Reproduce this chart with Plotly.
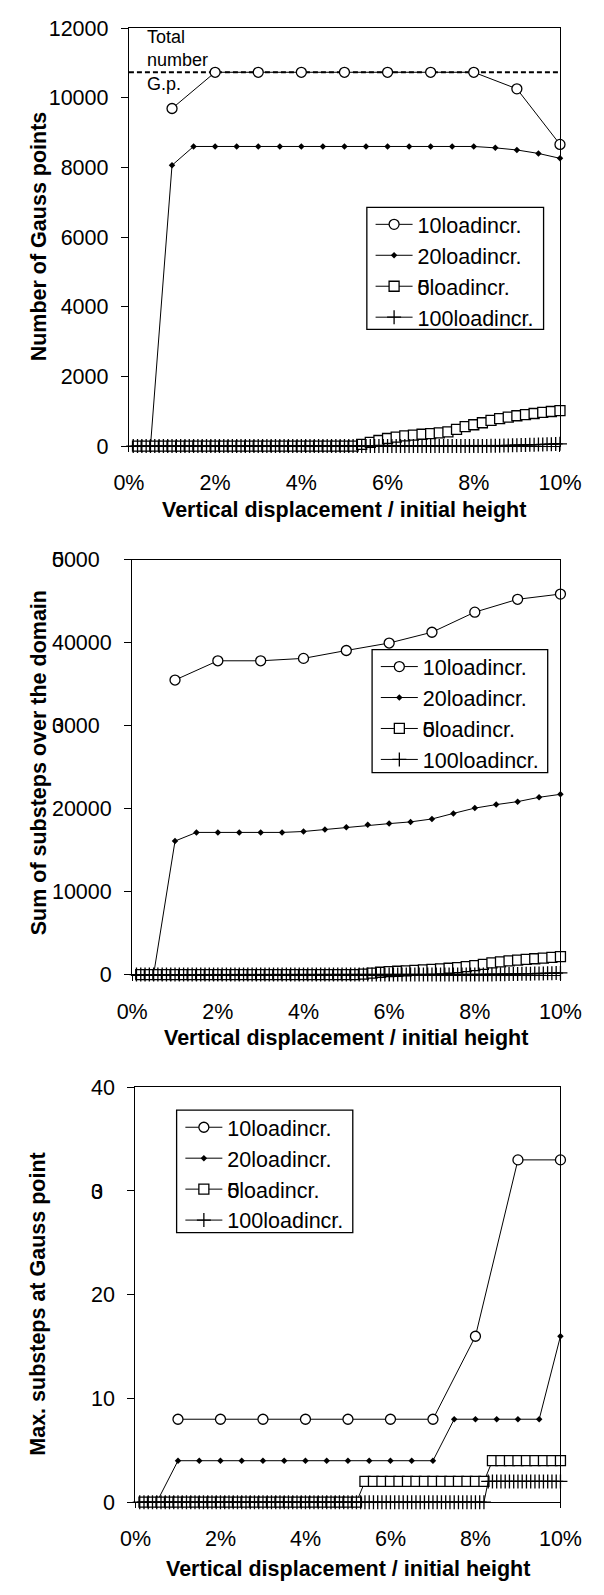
import plotly.graph_objects as go

# ---------------------------------------------------------------
# Data: load-step positions (vertical displacement / initial height, %)
# ---------------------------------------------------------------
x_10 = [round(10 * k / 10, 2) for k in range(1, 11)]      # 10 load increments
x_20 = [round(10 * k / 20, 2) for k in range(1, 21)]      # 20 load increments
x_50 = [round(10 * k / 50, 2) for k in range(1, 51)]      # 50 load increments
x_100 = [round(10 * k / 100, 2) for k in range(1, 101)]   # 100 load increments

# Number of Gauss points
gp_10 = [9690, 10730, 10730, 10730, 10730, 10730, 10730, 10730, 10255, 8660]
gp_20 = [0, 8060, 8600, 8600, 8600, 8600, 8600, 8600, 8600, 8600,
         8600, 8600, 8600, 8600, 8600, 8600, 8560, 8500, 8400, 8260]
gp_50 = [0] * 26 + [47, 104, 160, 217, 254, 292, 311, 339, 358, 377, 405, 481,
                    556, 612, 669, 735, 785, 830, 870, 905, 935, 965, 992, 1018]
gp_100 = [0] * 82 + [4, 7, 10, 12, 15, 19, 22, 25, 29, 32, 36, 40, 43, 47,
                     51, 55, 60, 64]
total_gp = 10730

# Sum of substeps over the domain
ss_10 = [35490, 37810, 37810, 38100, 39050, 39950, 41250, 43670, 45220, 45850]
ss_20 = [0, 16090, 17130, 17130, 17130, 17130, 17130, 17240, 17480, 17760,
         18040, 18190, 18400, 18750, 19420, 20060, 20480, 20840, 21360, 21720]
ss_50 = [0] * 26 + [60, 180, 280, 350, 400, 450, 500, 560, 620, 680, 760, 850,
                    960, 1080, 1230, 1400, 1540, 1640, 1740, 1830, 1910, 1990,
                    2080, 2170]
ss_100 = [0] * 82 + [8, 17, 26, 35, 45, 55, 65, 75, 86, 97, 108, 120, 132,
                     144, 157, 170, 183, 196]

# Max. substeps at a Gauss point
ms_10 = [8, 8, 8, 8, 8, 8, 8, 16, 33, 33]
ms_20 = [0] + [4] * 13 + [8] * 5 + [16]
ms_50 = [0] * 26 + [2] * 15 + [4] * 9
ms_100 = [0] * 82 + [2] * 18

x_tickvals = [0, 2, 4, 6, 8, 10]
x_ticktext = ["0%", "2%", "4%", "6%", "8%", "10%"]
series_names = ["10loadincr.", "20loadincr.",
                '<span style="letter-spacing:-11.95px">5</span>0loadincr.',
                "100loadincr."]

# ---------------------------------------------------------------
# Layout helpers (pixel geometry of a 604 x 1595 page)
# ---------------------------------------------------------------
W, H = 604, 1595
FONT = "Liberation Sans, Arial, Helvetica, sans-serif"
FS = 21.5


def fx(p):
    return p / W


def fy(p):
    return 1 - p / H


panels = [
    dict(left=120.5, right=580.5, top=17.3, bottom=441.7),
    dict(left=124.0, right=581.0, top=557.0, bottom=978.3),
    dict(left=127.5, right=581.0, top=1092.7, bottom=1514.0),
]

styles = [
    dict(mode="lines+markers", line=dict(color="black", width=1),
         marker=dict(symbol="circle", size=10, color="white",
                     line=dict(color="black", width=1.3))),
    dict(mode="lines+markers", line=dict(color="black", width=1),
         marker=dict(symbol="diamond", size=5, color="black",
                     line=dict(color="black", width=0))),
    dict(mode="lines+markers", line=dict(color="black", width=1),
         marker=dict(symbol="square", size=10, color="white",
                     line=dict(color="black", width=1.3))),
    dict(mode="lines+markers", line=dict(color="black", width=1),
         marker=dict(symbol="cross-thin", size=10, color="black",
                     line=dict(color="black", width=1.3))),
]

datasets = [
    [(x_10, gp_10), (x_20, gp_20), (x_50, gp_50), (x_100, gp_100)],
    [(x_10, ss_10), (x_20, ss_20), (x_50, ss_50), (x_100, ss_100)],
    [(x_10, ms_10), (x_20, ms_20), (x_50, ms_50), (x_100, ms_100)],
]

fig = go.Figure()
for i, panel_data in enumerate(datasets):
    suffix = "" if i == 0 else str(i + 1)
    for j, (xs, ys) in enumerate(panel_data):
        fig.add_trace(go.Scatter(
            x=xs, y=ys, name=series_names[j],
            xaxis="x" + suffix, yaxis="y" + suffix,
            legend="legend" + suffix,
            cliponaxis=False, hoverinfo="skip",
            **styles[j]))


def overlapped(a, b, rest):
    # first two glyphs drawn on top of each other, width kept for alignment
    return ('<span style="letter-spacing:-11.95px">%s</span>%s%s'
            '<span style="color:rgba(0,0,0,0)">0</span>' % (a, b, rest))


y_axes = [
    dict(range=[0, 12000], tickvals=[0, 2000, 4000, 6000, 8000, 10000, 12000],
         ticktext=["0", "2000", "4000", "6000", "8000", "10000", "12000"]),
    dict(range=[0, 50000], tickvals=[0, 10000, 20000, 30000, 40000, 50000],
         ticktext=["0", "10000", "20000", overlapped("3", "0", "000"),
                   "40000", overlapped("5", "0", "000")]),
    dict(range=[0, 40], tickvals=[0, 10, 20, 30, 40],
         ticktext=["0", "10", "20", overlapped("3", "0", ""), "40"]),
]

axis_common = dict(showline=True, linecolor="black", linewidth=1.3,
                   mirror=True, showgrid=False, zeroline=False,
                   ticks="outside", tickcolor="black", tickwidth=1,
                   tickfont=dict(family=FONT, size=FS, color="black"))

layout = dict(
    width=W, height=H, margin=dict(l=0, r=0, t=0, b=0),
    paper_bgcolor="white", plot_bgcolor="white", showlegend=True,
    font=dict(family=FONT, size=FS, color="black"),
)

legend_box = [(374.4, 199.3, 563.0, 323.3), (380.0, 648.3, 567.4, 773.3),
              (171.4, 1116.0, 359.4, 1240.3)]
y_titles = ["Number of Gauss points", "Sum of substeps over the domain",
            "Max. substeps at Gauss point"]
y_title_centers = [228.3, 763.3, 1313.0]
x_title_offsets = [65.0, 64.4, 68.0]

annotations = []
shapes = []
for i, p in enumerate(panels):
    suffix = "" if i == 0 else str(i + 1)
    layout["xaxis" + suffix] = dict(
        domain=[fx(p["left"]), fx(p["right"])], range=[0, 10],
        tickvals=x_tickvals, ticktext=x_ticktext, ticklen=5,
        ticklabelstandoff=12, anchor="y" + suffix, **axis_common)
    layout["yaxis" + suffix] = dict(
        domain=[fy(p["bottom"]), fy(p["top"])], ticklen=7,
        ticklabelstandoff=8, anchor="x" + suffix,
        **y_axes[i], **axis_common)
    bx0, by0, bx1, by1 = legend_box[i]
    layout["legend" + suffix] = dict(
        x=fx(bx0 + 4), y=fy(by0 - 3.5), xanchor="left", yanchor="top",
        bgcolor="rgba(0,0,0,0)", borderwidth=0, itemwidth=37,
        font=dict(family=FONT, size=FS, color="black"))
    shapes.append(dict(type="rect", xref="paper", yref="paper",
                       x0=fx(bx0), x1=fx(bx1), y0=fy(by1), y1=fy(by0),
                       line=dict(color="black", width=1.3),
                       fillcolor="white", layer="below"))
    annotations.append(dict(
        text="<b>%s</b>" % y_titles[i], textangle=-90,
        xref="paper", yref="paper", x=fx(24), y=fy(y_title_centers[i]),
        xanchor="center", yanchor="middle", showarrow=False,
        font=dict(family=FONT, size=FS, color="black")))
    annotations.append(dict(
        text="<b>Vertical displacement / initial height</b>",
        xref="paper", yref="paper", x=fx((p["left"] + p["right"]) / 2),
        y=fy(p["bottom"] + x_title_offsets[i]),
        xanchor="center", yanchor="middle", showarrow=False,
        font=dict(family=FONT, size=FS, color="black")))

# Total number of Gauss points (reference level in the first panel)
shapes.append(dict(type="line", xref="x", yref="y", x0=0, x1=10,
                   y0=total_gp, y1=total_gp, layer="below",
                   line=dict(color="black", width=2, dash="5px,3px")))
annotations.append(dict(
    text="Total<br>number<br>G.p.", xref="paper", yref="paper",
    x=fx(137.5), y=fy(50.5), xanchor="left", yanchor="middle",
    align="left", showarrow=False,
    font=dict(family=FONT, size=18, color="black")))

layout["shapes"] = shapes
layout["annotations"] = annotations
fig.update_layout(**layout)

fig.write_html("out.html")
